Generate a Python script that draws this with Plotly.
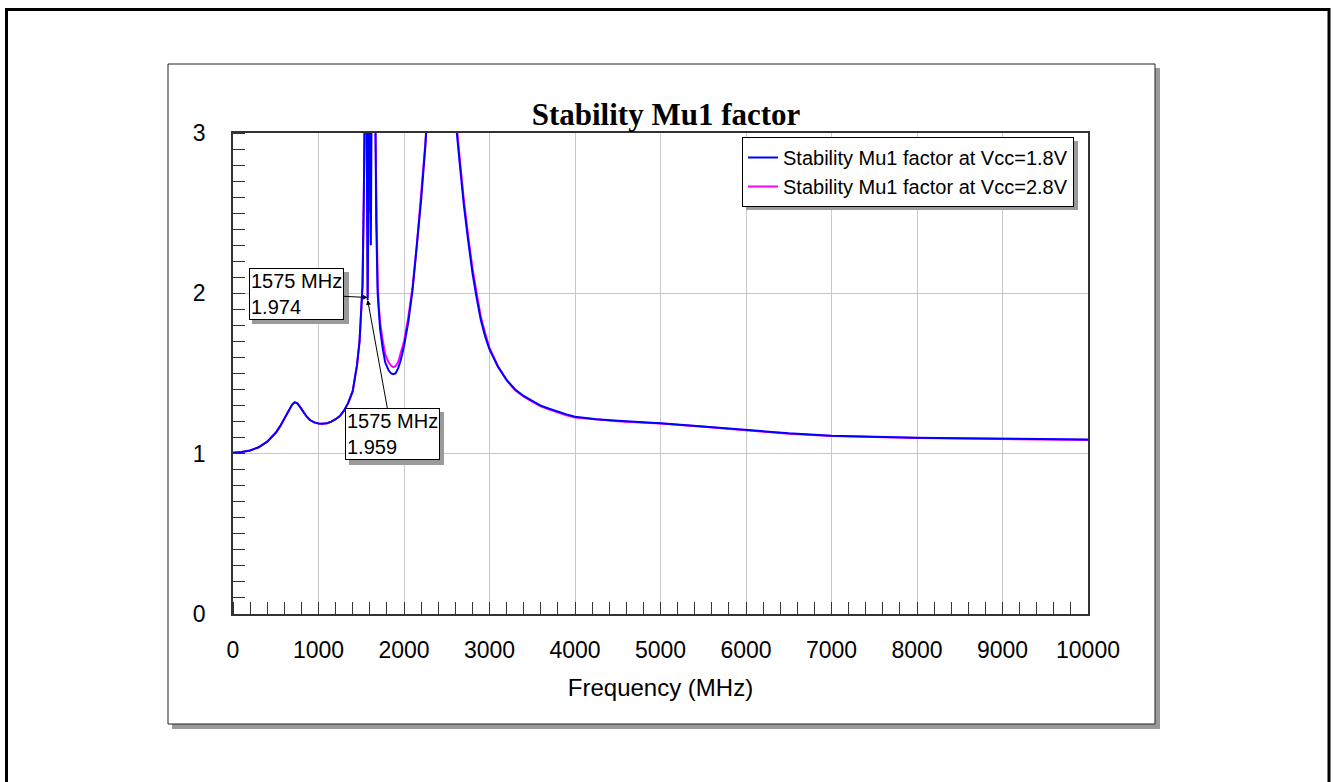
import plotly.graph_objects as go

# ---------------- data ----------------
freq_mhz = [0, 100, 200, 300, 400, 500, 550, 600, 650, 690, 720, 750, 780, 820, 860,
            900, 950, 1000, 1040, 1100, 1150, 1200, 1250, 1300, 1350, 1400, 1450, 1480,
            1500, 1515, 1530, 1545, 1555, 1565, 1570, 1575, 1580, 1585, 1595, 1605,
            1612, 1620, 1635, 1650, 1662, 1675, 1692, 1705, 1720, 1750, 1780, 1820,
            1850, 1875, 1900, 1930, 1960, 2000, 2050, 2100, 2150, 2200, 2250, 2280,
            2320, 2380, 2430, 2480, 2540, 2600, 2650, 2700, 2750, 2800, 2850, 2900,
            2950, 3000, 3100, 3200, 3300, 3400, 3500, 3600, 3700, 3800, 3900, 4000,
            4250, 4500, 4750, 5000, 5500, 6000, 6500, 7000, 7500, 8000, 8500, 9000,
            9500, 10000]

mu1_vcc18 = [1.005, 1.01, 1.02, 1.04, 1.075, 1.13, 1.17, 1.22, 1.27, 1.305, 1.32,
             1.315, 1.295, 1.262, 1.232, 1.21, 1.195, 1.188, 1.186, 1.19, 1.20, 1.215,
             1.235, 1.27, 1.32, 1.39, 1.55, 1.70, 1.88, 2.05, 2.6, 3.5, 4.0, 2.9, 2.2,
             1.959, 2.3, 3.2, 4.0, 2.9, 2.3, 3.5, 4.5, 4.2, 3.1, 2.45, 2.0, 1.88, 1.78,
             1.66, 1.57, 1.52, 1.50, 1.495, 1.50, 1.53, 1.58, 1.67, 1.82, 2.02, 2.28,
             2.58, 2.92, 3.15, 3.6, 4.4, 4.8, 4.5, 3.8, 3.1, 2.82, 2.55, 2.33, 2.13,
             1.97, 1.83, 1.73, 1.65, 1.54, 1.46, 1.40, 1.36, 1.33, 1.30, 1.28, 1.26,
             1.245, 1.23, 1.215, 1.205, 1.198, 1.19, 1.17, 1.148, 1.127, 1.112, 1.104,
             1.10, 1.096, 1.093, 1.09, 1.088]

mu1_vcc28 = [1.005, 1.01, 1.02, 1.04, 1.075, 1.13, 1.17, 1.22, 1.27, 1.305, 1.32,
             1.315, 1.295, 1.262, 1.232, 1.21, 1.195, 1.188, 1.186, 1.19, 1.20, 1.215,
             1.235, 1.27, 1.32, 1.39, 1.55, 1.70, 1.88, 2.05, 2.6, 3.3, 3.8, 3.0, 2.3,
             1.974, 2.4, 3.3, 3.5, 2.5, 2.9, 3.6, 4.5, 4.2, 3.15, 2.5, 2.05, 1.92, 1.82,
             1.71, 1.62, 1.57, 1.548, 1.54, 1.545, 1.57, 1.62, 1.70, 1.85, 2.04, 2.30,
             2.60, 2.94, 3.17, 3.6, 4.4, 4.8, 4.5, 3.85, 3.15, 2.85, 2.58, 2.36, 2.16,
             2.0, 1.85, 1.75, 1.66, 1.545, 1.458, 1.395, 1.355, 1.325, 1.295, 1.275,
             1.255, 1.24, 1.226, 1.212, 1.202, 1.195, 1.188, 1.168, 1.146, 1.125, 1.11,
             1.102, 1.098, 1.094, 1.091, 1.088, 1.086]

x_ticks = [0, 1000, 2000, 3000, 4000, 5000, 6000, 7000, 8000, 9000, 10000]
y_ticks = [0, 1, 2, 3]

marker_freq = 1575
marker_val_28 = 1.974
marker_val_18 = 1.959

# ---------------- layout geometry (pixels of the reference page) ----------------
W, H = 1333, 782
L, R, T, B = 233, 1088, 133, 614
PW, PH = R - L, B - T


def px(xp):
    return (xp - L) / PW


def py(yp):
    return (B - yp) / PH


FONT = "Liberation Sans, Arial, sans-serif"
GRAY = "#9a9a9a"


def shadow(x0, y0, x1, y1, layer="above"):
    return dict(type="rect", xref="paper", yref="paper", x0=px(x0), x1=px(x1),
                y0=py(y0), y1=py(y1), line=dict(width=0), fillcolor=GRAY, layer=layer)


fig = go.Figure()

fig.add_trace(go.Scatter(x=freq_mhz, y=mu1_vcc28, mode="lines",
                         name="Stability Mu1 factor at Vcc=2.8V",
                         line=dict(color="#FF00FF", width=2), legendrank=2))
fig.add_trace(go.Scatter(x=freq_mhz, y=mu1_vcc18, mode="lines",
                         name="Stability Mu1 factor at Vcc=1.8V",
                         line=dict(color="#0000FF", width=2), legendrank=1))

shapes = [
    # outer page frame
    dict(type="rect", xref="paper", yref="paper", x0=px(6.5), x1=px(1329), y0=py(9.5), y1=py(800),
         line=dict(color="black", width=3), fillcolor="rgba(0,0,0,0)", layer="below"),
    # panel shadow + panel
    shadow(172, 68, 1160, 729, layer="below"),
    dict(type="rect", xref="paper", yref="paper", x0=px(168), x1=px(1155), y0=py(64), y1=py(724),
         line=dict(color="#222222", width=1), fillcolor="white", layer="below"),
    # legend shadow
    shadow(746, 141, 1078, 210),
    # marker box shadows
    shadow(252, 272, 349, 324),
    shadow(349, 412, 444, 465),
]

annotations = []
for val, (bx, by) in ((marker_val_28, (737, 1.996)), (marker_val_18, (1860, 1.123))):
    annotations.append(dict(x=marker_freq, y=val, xref="x", yref="y", ax=bx, ay=by,
                            axref="x", ayref="y", text=f"{marker_freq} MHz<br>{val:.3f}",
                            showarrow=True, arrowcolor="black", arrowwidth=1,
                            arrowhead=2, arrowsize=1,
                            font=dict(family=FONT, size=20, color="black"),
                            bgcolor="white", bordercolor="black", borderwidth=1,
                            borderpad=1, align="left"))

fig.update_layout(
    width=W, height=H,
    margin=dict(l=L, r=W - R, t=T, b=H - B, pad=0),
    paper_bgcolor="white", plot_bgcolor="rgba(0,0,0,0)",
    font=dict(family=FONT, size=23, color="black"),
    title=dict(text="<b>Stability Mu1 factor</b>", xref="paper", x=px(666), xanchor="center",
               yref="container", y=1 - 114 / H, yanchor="middle",
               font=dict(family="Liberation Serif, Times New Roman, serif", size=31, color="black")),
    showlegend=True,
    legend=dict(x=px(742), y=py(137), xanchor="left", yanchor="top",
                bgcolor="white", bordercolor="black", borderwidth=1,
                font=dict(family=FONT, size=20, color="black"),
                tracegroupgap=0, itemwidth=30),
    shapes=shapes,
    annotations=annotations,
    xaxis=dict(range=[0, 10000], tickmode="array", tickvals=x_ticks,
               ticktext=[str(v) for v in x_ticks], ticks="", showgrid=True,
               gridcolor="#c8c8c8", gridwidth=1, zeroline=False,
               showline=True, linecolor="#333333", linewidth=1.5, mirror=True,
               ticklabelstandoff=15, tickfont=dict(size=23),
               minor=dict(dtick=200, ticks="inside", ticklen=12, tickcolor="#333333",
                          tickwidth=1, showgrid=False),
               title=dict(text="Frequency (MHz)", standoff=17, font=dict(size=24))),
    yaxis=dict(range=[0, 3], tickmode="array", tickvals=y_ticks,
               ticktext=[str(v) for v in y_ticks], ticks="", showgrid=True,
               gridcolor="#c8c8c8", gridwidth=1, zeroline=False,
               showline=True, linecolor="#333333", linewidth=1.5, mirror=True,
               ticklabelstandoff=21, tickfont=dict(size=23),
               minor=dict(dtick=0.1, ticks="inside", ticklen=12, tickcolor="#333333",
                          tickwidth=1, showgrid=False)),
)

fig.write_html("out.html", config={"displayModeBar": False},
               post_script="document.body.style.margin='0px';document.body.style.overflow='hidden';")
